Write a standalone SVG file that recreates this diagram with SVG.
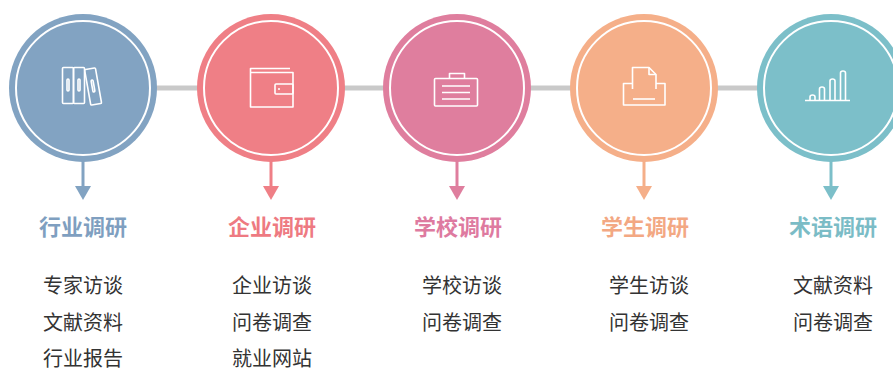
<svg xmlns="http://www.w3.org/2000/svg" width="893" height="371" viewBox="0 0 893 371">
<style>
.ring{fill:none;stroke:#fff;stroke-width:2}
.ic{fill:none;stroke:#fff;stroke-width:1.6;stroke-linejoin:round}
.title{font-family:"Noto Sans CJK SC","Noto Sans",sans-serif;font-size:22px;font-weight:bold;text-anchor:middle}
.item{font-family:"Noto Sans CJK SC","Noto Sans",sans-serif;font-size:20px;fill:#333;text-anchor:middle}
</style>
<rect width="893" height="371" fill="#fff"/>
<g id="connectors">
<line x1="83" y1="88" x2="831" y2="88" stroke="#c9c9c9" stroke-width="5"/>
<g stroke-width="3">
<line x1="83" y1="160" x2="83" y2="188" stroke="#82a3c2"/>
<line x1="271" y1="160" x2="271" y2="188" stroke="#ef7f86"/>
<line x1="457" y1="160" x2="457" y2="188" stroke="#df7e9e"/>
<line x1="644" y1="160" x2="644" y2="188" stroke="#f5af89"/>
<line x1="831" y1="160" x2="831" y2="188" stroke="#7cbfc9"/>
</g>
<polygon points="75,186 91,186 83,200" fill="#82a3c2"/>
<polygon points="263,186 279,186 271,200" fill="#ef7f86"/>
<polygon points="449,186 465,186 457,200" fill="#df7e9e"/>
<polygon points="636,186 652,186 644,200" fill="#f5af89"/>
<polygon points="823,186 839,186 831,200" fill="#7cbfc9"/>
</g>
<g id="node1">
<circle cx="83" cy="88" r="74" fill="#82a3c2"/>
<circle class="ring" cx="83" cy="88" r="67"/>
<g class="ic">
<rect x="62.5" y="67.5" width="11" height="36" rx="1"/>
<rect x="73.5" y="67.5" width="11" height="36" rx="1"/>
<rect x="67" y="79" width="2" height="12" rx="1"/>
<rect x="78" y="79" width="2" height="12" rx="1"/>
<g transform="rotate(-10 93 86)">
<rect x="87.5" y="68.5" width="11" height="36" rx="1"/>
<rect x="92" y="80" width="2" height="12" rx="1"/>
</g>
</g>
<text class="title" x="83" y="235" fill="#7f9fc0">行业调研</text>
<text class="item" x="83" y="293">专家访谈</text>
<text class="item" x="83" y="330">文献资料</text>
<text class="item" x="83" y="366">行业报告</text>
</g>
<g id="node2">
<circle cx="271" cy="88" r="74" fill="#ef7f86"/>
<circle class="ring" cx="271" cy="88" r="67"/>
<g class="ic">
<path d="M290,68.5 H250.5 V107 H293 V72.5 H250.5"/>
<rect x="275" y="84" width="18" height="10" rx="1"/>
<circle cx="279" cy="89" r="1" fill="#fff" stroke="none"/>
</g>
<text class="title" x="272" y="235" fill="#ee7a82">企业调研</text>
<text class="item" x="272" y="293">企业访谈</text>
<text class="item" x="272" y="330">问卷调查</text>
<text class="item" x="272" y="366">就业网站</text>
</g>
<g id="node3">
<circle cx="457" cy="88" r="74" fill="#df7e9e"/>
<circle class="ring" cx="457" cy="88" r="67"/>
<g class="ic">
<rect x="434.5" y="78.5" width="43" height="27.5" rx="1"/>
<path d="M449.5,78.5 V73.5 H464.5 V78.5"/>
<path d="M442,86 H470 M442,92.5 H470 M442,99 H470"/>
</g>
<text class="title" x="458" y="235" fill="#de7aa0">学校调研</text>
<text class="item" x="462" y="293">学校访谈</text>
<text class="item" x="462" y="330">问卷调查</text>
</g>
<g id="node4">
<circle cx="644" cy="88" r="74" fill="#f5af89"/>
<circle class="ring" cx="644" cy="88" r="67"/>
<g class="ic">
<path d="M632.5,89 V67.5 H649 L656,74.5 V89"/>
<path d="M649,67.5 V74.5 H656"/>
<path d="M632.5,83.5 H623.5 V105 H665 V83.5 H656"/>
<path d="M633,99 H655"/>
</g>
<text class="title" x="645" y="235" fill="#f3a883">学生调研</text>
<text class="item" x="649" y="293">学生访谈</text>
<text class="item" x="649" y="330">问卷调查</text>
</g>
<g id="node5">
<circle cx="831" cy="88" r="74" fill="#7cbfc9"/>
<circle class="ring" cx="831" cy="88" r="67"/>
<g class="ic">
<path d="M805,100.5 H850"/>
<path d="M810,100.5 V97 Q810,95 812.5,95 Q815,95 815,97 V100.5"/>
<path d="M819.5,100.5 V89 Q819.5,87 822,87 Q824.5,87 824.5,89 V100.5"/>
<path d="M830,100.5 V81 Q830,79 832.5,79 Q835,79 835,81 V100.5"/>
<path d="M840.5,100.5 V73 Q840.5,71 843,71 Q845.5,71 845.5,73 V100.5"/>
</g>
<text class="title" x="833" y="235" fill="#7bbcc6">术语调研</text>
<text class="item" x="833" y="293">文献资料</text>
<text class="item" x="833" y="330">问卷调查</text>
</g>
</svg>
